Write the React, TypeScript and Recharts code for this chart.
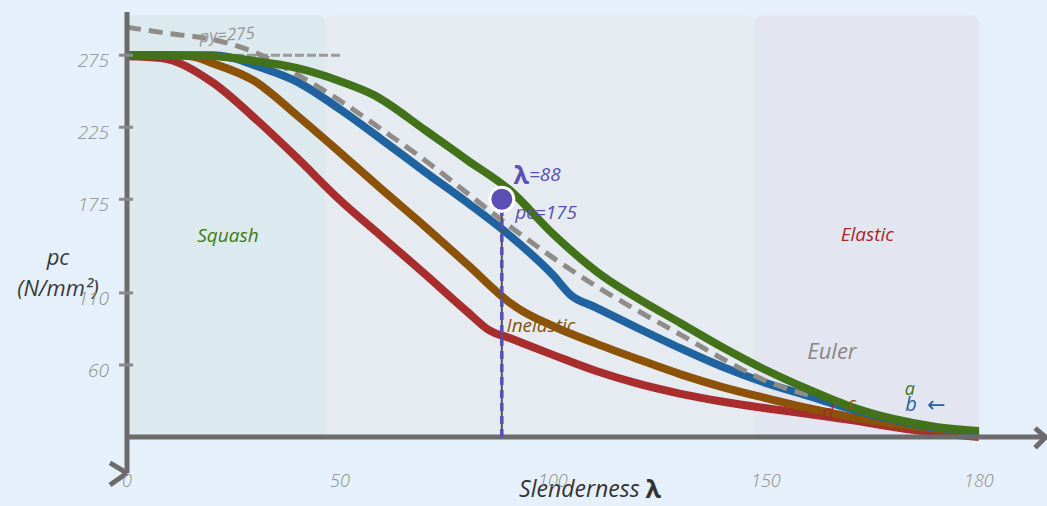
import React from 'react';
import {
  ComposedChart,
  Line,
  XAxis,
  YAxis,
  ReferenceArea,
  ReferenceLine,
  ReferenceDot,
} from 'recharts';

const hand = '"Open Sans", "DejaVu Sans", sans-serif';

// curve a (green)
const lambdaA = [0, 10, 20, 30, 40, 50, 58, 70, 80, 90, 100, 112, 120, 130, 140, 150, 160, 170, 180, 190, 200];
const pcA = [275, 275, 274.5, 271, 266, 257, 247.3, 223, 202, 181, 151, 121, 106, 89, 72, 56.5, 43, 31, 22.5, 17, 14.2];

// curve b (blue)
const lambdaB = [0, 10, 20, 25, 30, 40, 50, 60, 70, 80, 90, 100, 104, 110, 120, 130, 140, 150, 160, 170, 180, 190, 200];
const pcB = [275, 275, 275, 273, 268, 256.5, 237.5, 216, 194, 172.5, 149.5, 122.4, 109, 100, 85.5, 71.5, 58.5, 47.5, 38.5, 29.5, 22, 16.5, 13.5];

// curve c (brown)
const lambdaC = [0, 10, 15, 20, 30, 40, 50, 60, 70, 80, 90, 92, 100, 110, 120, 130, 140, 150, 160, 170, 180, 190, 200];
const pcC = [275, 275, 274.3, 269.5, 257, 233, 207.5, 181.4, 156, 129.5, 103, 99, 87, 75, 64, 53.5, 44.5, 37, 30, 24, 19, 15.5, 12.1];

// curve d (red)
const lambdaD = [0, 8, 20, 30, 40, 50, 60, 70, 80, 85, 90, 100, 110, 120, 130, 140, 150, 160, 170, 180, 190, 200];
const pcD = [274.3, 273, 256.3, 231.3, 203.5, 174.4, 148.7, 123, 96.7, 84.2, 78.5, 67, 56, 47, 40, 34.5, 30, 26, 21.8, 17, 13, 10];

// dashed grey reference curve
const lambdaRef = [0, 10, 20, 30, 40, 50, 60, 70, 80, 90, 100, 110, 120, 130, 140, 150, 160];
const pcRef = [294.4, 290, 286, 277, 261.5, 243.5, 223, 202, 179, 156, 134.5, 115, 97.5, 81, 64, 49, 39];

const xTicks = [0, 50, 100, 150, 200];
const xTickLabels = ['0', '50', '100', '150', '180'];
const yTicks = [60, 110, 175, 225, 275];
const yTickLabels = ['60', '110', '175', '225', '275'];

const zones = [
  { from: 0, to: 46.5, fill: '#dce9ef' },
  { from: 46.5, to: 147.2, fill: '#e5ebf1' },
  { from: 147.2, to: 200, fill: '#e3e6f0' },
];

const marked = { lambda: 88, pc: 175 };
const py = 275;

const notes = [
  { x: 23.7, y: 150.2, text: 'Squash', color: '#3f7a12', size: 19 },
  { x: 97.2, y: 87.7, text: 'Inelastic', color: '#8b5208', size: 19 },
  { x: 173.8, y: 150.9, text: 'Elastic', color: '#a42a2a', size: 19 },
  { x: 165.5, y: 70.4, text: 'Euler', color: '#8a8585', size: 22 },
  { x: 23.5, y: 289.7, text: 'py=275', color: '#959595', size: 17, rotate: -4 },
  { x: 183.8, y: 44, text: 'a', color: '#42731a', size: 18 },
  { x: 184.1, y: 33, text: 'b', color: '#1f63a0', size: 20 },
  { x: 190, y: 33.6, text: '←', color: '#1f63a0', size: 22 },
  { x: 170.2, y: 33.6, text: 'c', color: '#8b5208', size: 19 },
  { x: 164.6, y: 28, text: 'd', color: '#a42a2a', size: 20 },
  { x: 98.4, y: 166.2, text: 'pc=175', color: '#5a4fb4', size: 19 },
];

const toPoints = (ls: number[], ps: number[]) => ls.map((l, i) => ({ lambda: l, pc: ps[i] }));

function NoteText(props: any) {
  const { viewBox, text, color, size, rotate, children } = props;
  const cx = viewBox.x + (viewBox.width || 0) / 2;
  const cy = viewBox.y + (viewBox.height || 0) / 2;
  return (
    <text
      x={cx}
      y={cy}
      fill={color}
      fontSize={size}
      fontStyle="italic"
      fontFamily={hand}
      textAnchor="middle"
      dominantBaseline="central"
      transform={rotate ? `rotate(${rotate} ${cx} ${cy})` : undefined}
    >
      {text}
      {children}
    </text>
  );
}

function XTick(props: any) {
  const { x, y, payload } = props;
  const i = xTicks.indexOf(payload.value);
  return (
    <text x={x} y={y - 6} fill="#8d8d8d" fontSize={18} fontStyle="italic" fontFamily={hand} fontWeight={300} textAnchor="middle" dominantBaseline="central">
      {xTickLabels[i]}
    </text>
  );
}

function YTick(props: any) {
  const { x, y, payload } = props;
  const i = yTicks.indexOf(payload.value);
  return (
    <g>
      <line x1={x - 8} x2={x + 6} y1={y} y2={y} stroke="#8a8a8a" strokeWidth={3} />
      <text x={x - 18} y={y + 5} fill="#8d8d8d" fontSize={19} fontStyle="italic" fontFamily={hand} fontWeight={300} textAnchor="end" dominantBaseline="central">
        {yTickLabels[i]}
      </text>
    </g>
  );
}

function YTitle(props: any) {
  const { viewBox } = props;
  const x = viewBox.x + 58;
  return (
    <g fill="#3a3a3a" fontFamily={hand} fontStyle="italic" fontSize={22} textAnchor="middle">
      <text x={x} y={viewBox.y + 244} dominantBaseline="central">pc</text>
      <text x={x} y={viewBox.y + 275} dominantBaseline="central">(N/mm²)</text>
    </g>
  );
}

function XTitle(props: any) {
  const { viewBox } = props;
  return (
    <text x={viewBox.x + 463} y={viewBox.y + 2} fill="#333" fontFamily={hand} fontStyle="italic" fontSize={23} textAnchor="middle" dominantBaseline="central">
      Slenderness <tspan fontStyle="normal" fontWeight="bold" fontSize={25}>λ</tspan>
    </text>
  );
}

const axisColor = '#6b6b6b';
const lineWidth = 8;

export default function App() {
  return (
    <div style={{ width: 1047, height: 506, background: '#e6f0fa' }}>
      <style>{'body{margin:0}'}</style>
      <ComposedChart width={1047} height={506} margin={{ top: 12, right: 0, left: 0, bottom: 0 }}>
        <XAxis
          dataKey="lambda"
          type="number"
          domain={[0, 216]}
          ticks={xTicks}
          axisLine={false}
          tickLine={false}
          tickSize={0}
          tickMargin={0}
          height={20}
          tick={<XTick />}
          allowDataOverflow
          label={<XTitle />}
        />
        <YAxis
          type="number"
          domain={[-24, 305]}
          ticks={yTicks}
          axisLine={false}
          tickLine={false}
          tickSize={0}
          tickMargin={0}
          width={127}
          tick={<YTick />}
          allowDataOverflow
          label={<YTitle />}
        />

        {zones.map((z) => (
          <ReferenceArea key={z.from} x1={z.from} x2={z.to} y1={10} y2={302.8} fill={z.fill} fillOpacity={1} stroke="none" radius={[8, 8, 0, 0]} />
        ))}

        <ReferenceLine segment={[{ x: 0, y: py }, { x: 50, y: py }]} stroke="#9a9a9a" strokeWidth={3} strokeDasharray="9 3" />

        <Line data={toPoints(lambdaD, pcD)} dataKey="pc" type="monotone" stroke="#a82e2e" strokeWidth={lineWidth} dot={false} isAnimationActive={false} />
        <Line data={toPoints(lambdaC, pcC)} dataKey="pc" type="monotone" stroke="#8b5208" strokeWidth={lineWidth} dot={false} isAnimationActive={false} />
        <Line data={toPoints(lambdaB, pcB)} dataKey="pc" type="monotone" stroke="#1f63a0" strokeWidth={lineWidth} dot={false} isAnimationActive={false} />
        <Line data={toPoints(lambdaRef, pcRef)} dataKey="pc" type="monotone" stroke="#8f8c88" strokeWidth={5} strokeDasharray="14 8" dot={false} isAnimationActive={false} />
        <Line data={toPoints(lambdaA, pcA)} dataKey="pc" type="monotone" stroke="#42731a" strokeWidth={lineWidth} dot={false} isAnimationActive={false} />

        <ReferenceLine segment={[{ x: 0, y: 10 }, { x: 215.8, y: 10 }]} stroke={axisColor} strokeWidth={5} ifOverflow="visible" />
        <ReferenceLine segment={[{ x: 0, y: -15 }, { x: 0, y: 305 }]} stroke={axisColor} strokeWidth={5} ifOverflow="visible" />
        <ReferenceLine segment={[{ x: -4, y: -8 }, { x: 0, y: -15 }]} stroke={axisColor} strokeWidth={5} ifOverflow="visible" />
        <ReferenceLine segment={[{ x: -4, y: -23.3 }, { x: 0, y: -15 }]} stroke={axisColor} strokeWidth={5} ifOverflow="visible" />
        <ReferenceLine segment={[{ x: 213.2, y: 16.2 }, { x: 215.8, y: 9.6 }]} stroke={axisColor} strokeWidth={5} ifOverflow="visible" />
        <ReferenceLine segment={[{ x: 213.2, y: 2.6 }, { x: 215.8, y: 10.4 }]} stroke={axisColor} strokeWidth={5} ifOverflow="visible" />

        <ReferenceLine segment={[{ x: marked.lambda, y: 10 }, { x: marked.lambda, y: marked.pc }]} stroke="#555" strokeWidth={2} />
        <ReferenceLine segment={[{ x: marked.lambda, y: 10 }, { x: marked.lambda, y: marked.pc }]} stroke="#5a4fb4" strokeWidth={3.5} strokeDasharray="8 5" />
        <ReferenceDot x={marked.lambda} y={marked.pc} r={12} fill="#5a4fb4" stroke="#fff" strokeWidth={3} />

        {notes.map((n) => (
          <ReferenceDot
            key={n.text}
            x={n.x}
            y={n.y}
            r={0}
            fill="none"
            stroke="none"
            ifOverflow="visible"
            label={<NoteText text={n.text} color={n.color} size={n.size} rotate={n.rotate} />}
          />
        ))}
        <ReferenceDot
          x={96.3}
          y={192.6}
          r={0}
          fill="none"
          stroke="none"
          label={
            <NoteText color="#5a4fb4" size={19}>
              <tspan fontStyle="normal" fontWeight="bold" fontSize={25}>λ</tspan>
              <tspan>=88</tspan>
            </NoteText>
          }
        />
      </ComposedChart>
    </div>
  );
}
